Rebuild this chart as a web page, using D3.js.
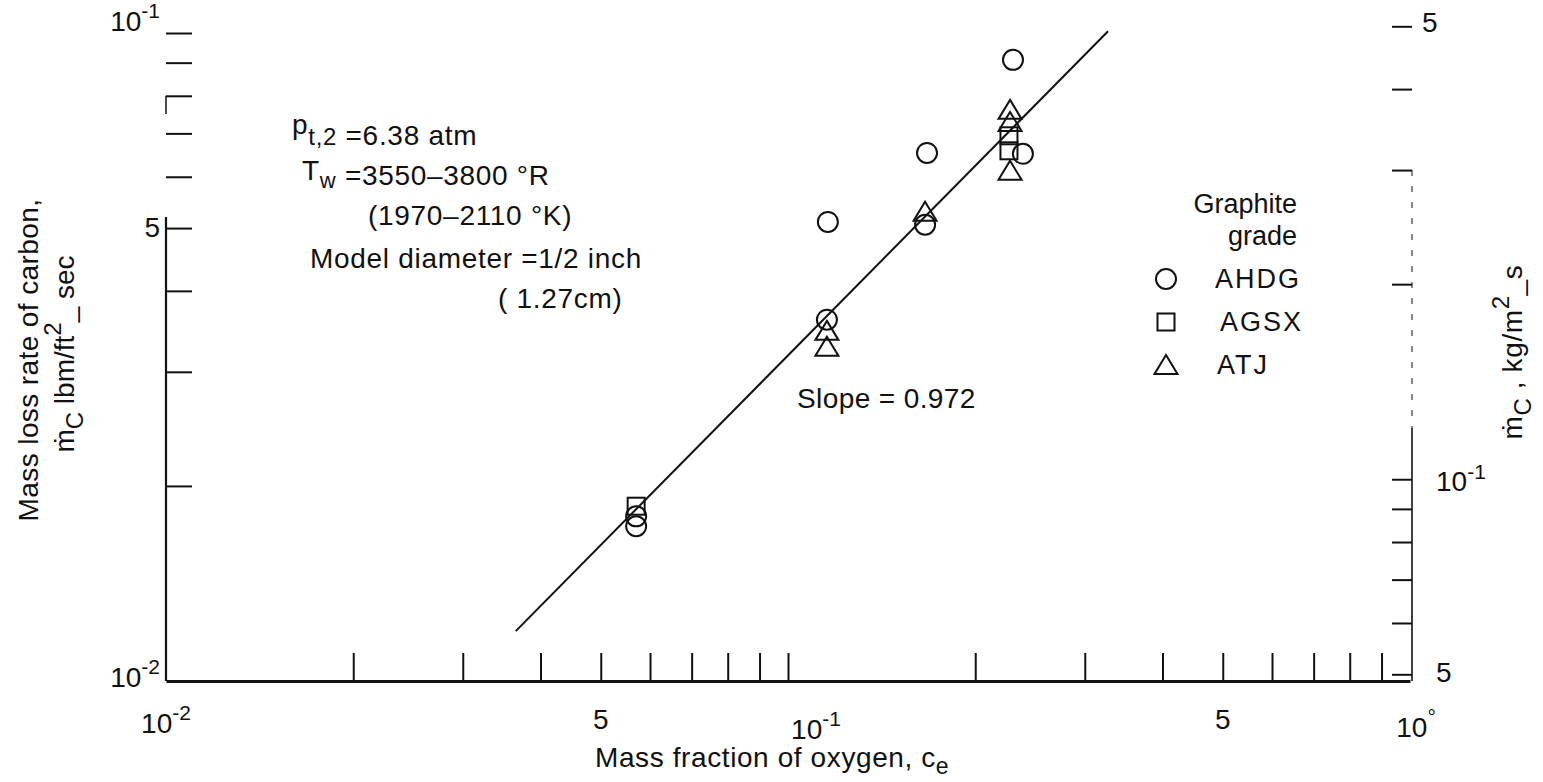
<!DOCTYPE html>
<html>
<head>
<meta charset="utf-8">
<script src="https://cdn.jsdelivr.net/npm/d3@7/dist/d3.min.js"></script>
<style>
html,body{margin:0;padding:0;background:#fff;}
svg text{font-family:"Liberation Sans","DejaVu Sans",Arial,sans-serif;fill:#111;}
</style>
</head>
<body>
<svg id="chart" width="1543" height="782"></svg>
<script>
// ---------------- data ----------------
const ahdgX = [0.2300, 0.1673, 0.2386, 0.1159, 0.1661, 0.1155, 0.0570, 0.0570];
const ahdgY = [0.0909, 0.0653, 0.0651, 0.0511, 0.0506, 0.0361, 0.01795, 0.01733];
const agsxX = [0.2266, 0.2266, 0.0570];
const agsxY = [0.0694, 0.0658, 0.01861];
const atjX  = [0.2275, 0.2275, 0.2275, 0.1661, 0.1155, 0.1155];
const atjY  = [0.0761, 0.0729, 0.0613, 0.0530, 0.0347, 0.0328];
const fitX  = [0.0365, 0.327];
const fitY  = [0.01194, 0.1006];
const slopeText = "Slope = 0.972";

const xTickValues = [0.02,0.03,0.04,0.05,0.06,0.07,0.08,0.09,0.1,0.2,0.3,0.4,0.5,0.6,0.7,0.8,0.9];
const yTickValues = [0.02,0.03,0.04,0.05,0.06,0.07,0.08,0.09,0.1];
const yRightTickValues = [0.05,0.06,0.07,0.08,0.09,0.1,0.2,0.3,0.4,0.5];
const xTickLabelValues = [0.01, 0.05, 0.1, 0.5, 1];
const xTickLabelBase   = ["10", "5", "10", "5", "10"];
const xTickLabelExp    = ["-2", "", "-1", "", "o"];
const yTickLabelValues = [0.1, 0.05, 0.01];
const yTickLabelBase   = ["10", "5", "10"];
const yTickLabelExp    = ["-1", "", "-2"];
const yRightLabelValues = [0.5, 0.1, 0.05];
const yRightLabelBase   = ["5", "10", "5"];
const yRightLabelExp    = ["", "-1", ""];
const LBM_FT2_TO_KG_M2 = 4.8824;

const seriesNames = ["AHDG", "AGSX", "ATJ"];

// ---------------- layout ----------------
const svg = d3.select("#chart");
const x = d3.scaleLog().domain([0.01, 1]).range([166, 1410]);
const y = d3.scaleLog().domain([0.01, 0.1]).range([681, 33]);
const yR = d3.scaleLog().domain([0.01*LBM_FT2_TO_KG_M2, 0.1*LBM_FT2_TO_KG_M2]).range([681, 33]);
const ink = "#111";

// bottom axis
const gx = svg.append("g").attr("transform", `translate(0,${y(0.01)})`)
  .call(d3.axisBottom(x).tickValues(xTickValues).tickSize(-28).tickSizeOuter(0).tickFormat(""));
gx.select(".domain").attr("stroke", ink).attr("stroke-width", 3);
gx.selectAll(".tick line").attr("stroke", ink).attr("stroke-width", 2);

// left axis
const gy = svg.append("g").attr("transform", `translate(${x(0.01)},0)`)
  .call(d3.axisLeft(y).tickValues(yTickValues).tickSize(-26).tickSizeOuter(0).tickFormat(""));
gy.select(".domain").remove();
gy.selectAll(".tick line").attr("stroke", ink).attr("stroke-width", 2);
svg.append("line").attr("x1", x(0.01)).attr("x2", x(0.01))
  .attr("y1", y(0.052)).attr("y2", y(0.01)).attr("stroke", ink).attr("stroke-width", 2.2);
svg.append("line").attr("x1", x(0.01)).attr("x2", x(0.01))
  .attr("y1", y(0.08)).attr("y2", y(0.075)).attr("stroke", ink).attr("stroke-width", 1.5);

// right axis (kg/m^2-s)
const gr = svg.append("g").attr("transform", `translate(${x(1)+2},0)`)
  .call(d3.axisRight(yR).tickValues(yRightTickValues).tickSize(-20).tickSizeOuter(0).tickFormat(""));
gr.select(".domain").remove();
gr.selectAll(".tick line").attr("stroke", ink).attr("stroke-width", 2);
svg.append("line").attr("x1", x(1)+2).attr("x2", x(1)+2)
  .attr("y1", yR(0.12)).attr("y2", y(0.01)).attr("stroke", ink).attr("stroke-width", 1.6);
svg.append("line").attr("x1", x(1)+2).attr("x2", x(1)+2)
  .attr("y1", yR(0.3)).attr("y2", yR(0.12)).attr("stroke", ink).attr("stroke-width", 1)
  .attr("stroke-dasharray", "6,10");

// tick labels helper
function supLabel(px, py, base, exp, anchor, size) {
  const t = svg.append("text").attr("x", px).attr("y", py)
    .attr("text-anchor", anchor).attr("font-size", size);
  t.append("tspan").text(base);
  if (exp) {
    t.append("tspan").attr("dy", -size*0.45).attr("font-size", size*0.75).text(exp === "o" ? "°" : exp);
  }
  return t;
}
// bottom
const xLabelShift = [0, 0, 28, 0, 6];
const xLabelDrop  = [52, 48, 58, 48, 56];
xTickLabelValues.forEach((v, i) => {
  supLabel(x(v) + xLabelShift[i], y(0.01) + xLabelDrop[i], xTickLabelBase[i], xTickLabelExp[i], "middle", 28);
});
// left
const yLabelShift = [-2, 9, 6];
yTickLabelValues.forEach((v, i) => {
  supLabel(x(0.01) - 6, y(v) + yLabelShift[i], yTickLabelBase[i], yTickLabelExp[i], "end", 28);
});
// right
const yRLabelShift = [6, 12, 8];
yRightLabelValues.forEach((v, i) => {
  supLabel(x(1) + (i === 0 ? 12 : 26), yR(v) + yRLabelShift[i], yRightLabelBase[i], yRightLabelExp[i], "start", 28);
});

// axis titles
const bt = svg.append("text").attr("x", 595).attr("y", 767).attr("font-size", 28).attr("letter-spacing", 0.6);
bt.append("tspan").text("Mass fraction of oxygen, c");
bt.append("tspan").attr("dy", 7).attr("font-size", 23).text("e");

svg.append("text").attr("transform", "translate(38,360) rotate(-90)")
  .attr("text-anchor", "middle").attr("font-size", 28).attr("letter-spacing", 0.4).text("Mass loss rate of carbon,");
const lt2 = svg.append("text").attr("transform", "translate(74,354) rotate(-90)")
  .attr("text-anchor", "middle").attr("font-size", 28);
lt2.append("tspan").text("ṁ");
lt2.append("tspan").attr("dy", 9).attr("font-size", 24).text("C");
lt2.append("tspan").attr("dy", -9).text(" lbm/ft");
lt2.append("tspan").attr("dy", -13).attr("font-size", 24).text("2");
lt2.append("tspan").attr("dy", 13).text("_ sec");

const rt = svg.append("text").attr("transform", "translate(1522,352) rotate(-90)")
  .attr("text-anchor", "middle").attr("font-size", 28).attr("letter-spacing", 0.6);
rt.append("tspan").text("ṁ");
rt.append("tspan").attr("dy", 9).attr("font-size", 24).text("C");
rt.append("tspan").attr("dy", -9).text(" ,  kg/m");
rt.append("tspan").attr("dy", -13).attr("font-size", 24).text("2");
rt.append("tspan").attr("dy", 13).text("_s");

// annotation block
const annSize = 28, annSpacing = 0.7;
const a1 = svg.append("text").attr("x", 292).attr("y", 134).attr("font-size", annSize).attr("letter-spacing", annSpacing);
a1.append("tspan").text("p");
a1.append("tspan").attr("dy", 11).attr("font-size", 24).text("t,2");
a1.append("tspan").text(" =6.38 atm");
const a2 = svg.append("text").attr("x", 302).attr("y", 180).attr("font-size", annSize).attr("letter-spacing", annSpacing);
a2.append("tspan").text("T");
a2.append("tspan").attr("dy", 8).attr("font-size", 22).text("w");
a2.append("tspan").attr("dy", -3).text(" =3550\u20133800 \u00b0R");
svg.append("text").attr("x", 368).attr("y", 225).attr("font-size", annSize).attr("letter-spacing", annSpacing).text("(1970\u20132110 \u00b0K)");
svg.append("text").attr("x", 310).attr("y", 268).attr("font-size", annSize).attr("letter-spacing", annSpacing).text("Model diameter =1/2 inch");
svg.append("text").attr("x", 498).attr("y", 308).attr("font-size", annSize).attr("letter-spacing", annSpacing).text("( 1.27cm)");
svg.append("text").attr("x", 797).attr("y", 408).attr("font-size", 28).attr("letter-spacing", 0.4).text(slopeText);

// fit line
const fitData = fitX.map((v, i) => ({x: v, y: fitY[i]}));
svg.append("path").datum(fitData)
  .attr("d", d3.line().x(d => x(d.x)).y(d => y(d.y)))
  .attr("fill", "none").attr("stroke", ink).attr("stroke-width", 2);

// markers
function drawCircle(g, cx, cy) {
  g.append("circle").attr("cx", cx).attr("cy", cy).attr("r", 10)
    .attr("fill", "none").attr("stroke", ink).attr("stroke-width", 2);
}
function drawSquare(g, cx, cy) {
  g.append("rect").attr("x", cx-8.5).attr("y", cy-8.5).attr("width", 17).attr("height", 17)
    .attr("fill", "none").attr("stroke", ink).attr("stroke-width", 2);
}
function drawTriangle(g, cx, cy) {
  g.append("path").attr("d", `M${cx},${cy-10}L${cx+11.5},${cy+9}L${cx-11.5},${cy+9}Z`)
    .attr("fill", "none").attr("stroke", ink).attr("stroke-width", 2).attr("stroke-linejoin", "miter");
}
const gm = svg.append("g");
ahdgX.forEach((v, i) => drawCircle(gm, x(v), y(ahdgY[i])));
agsxX.forEach((v, i) => drawSquare(gm, x(v), y(agsxY[i])));
atjX.forEach((v, i) => drawTriangle(gm, x(v), y(atjY[i])));

// legend
const lg = svg.append("g");
lg.append("text").attr("x", 1297).attr("y", 213).attr("text-anchor", "end").attr("font-size", 27).text("Graphite");
lg.append("text").attr("x", 1297).attr("y", 245).attr("text-anchor", "end").attr("font-size", 27).text("grade");
const legendDraw = [drawCircle, drawSquare, drawTriangle];
const legendTextX = [1215, 1220, 1217];
seriesNames.forEach((name, i) => {
  const cy = 279 + i * 43;
  legendDraw[i](lg, 1166, cy);
  lg.append("text").attr("x", legendTextX[i]).attr("y", cy + 9).attr("font-size", 27)
    .attr("letter-spacing", 2).text(name);
});
</script>
</body>
</html>
